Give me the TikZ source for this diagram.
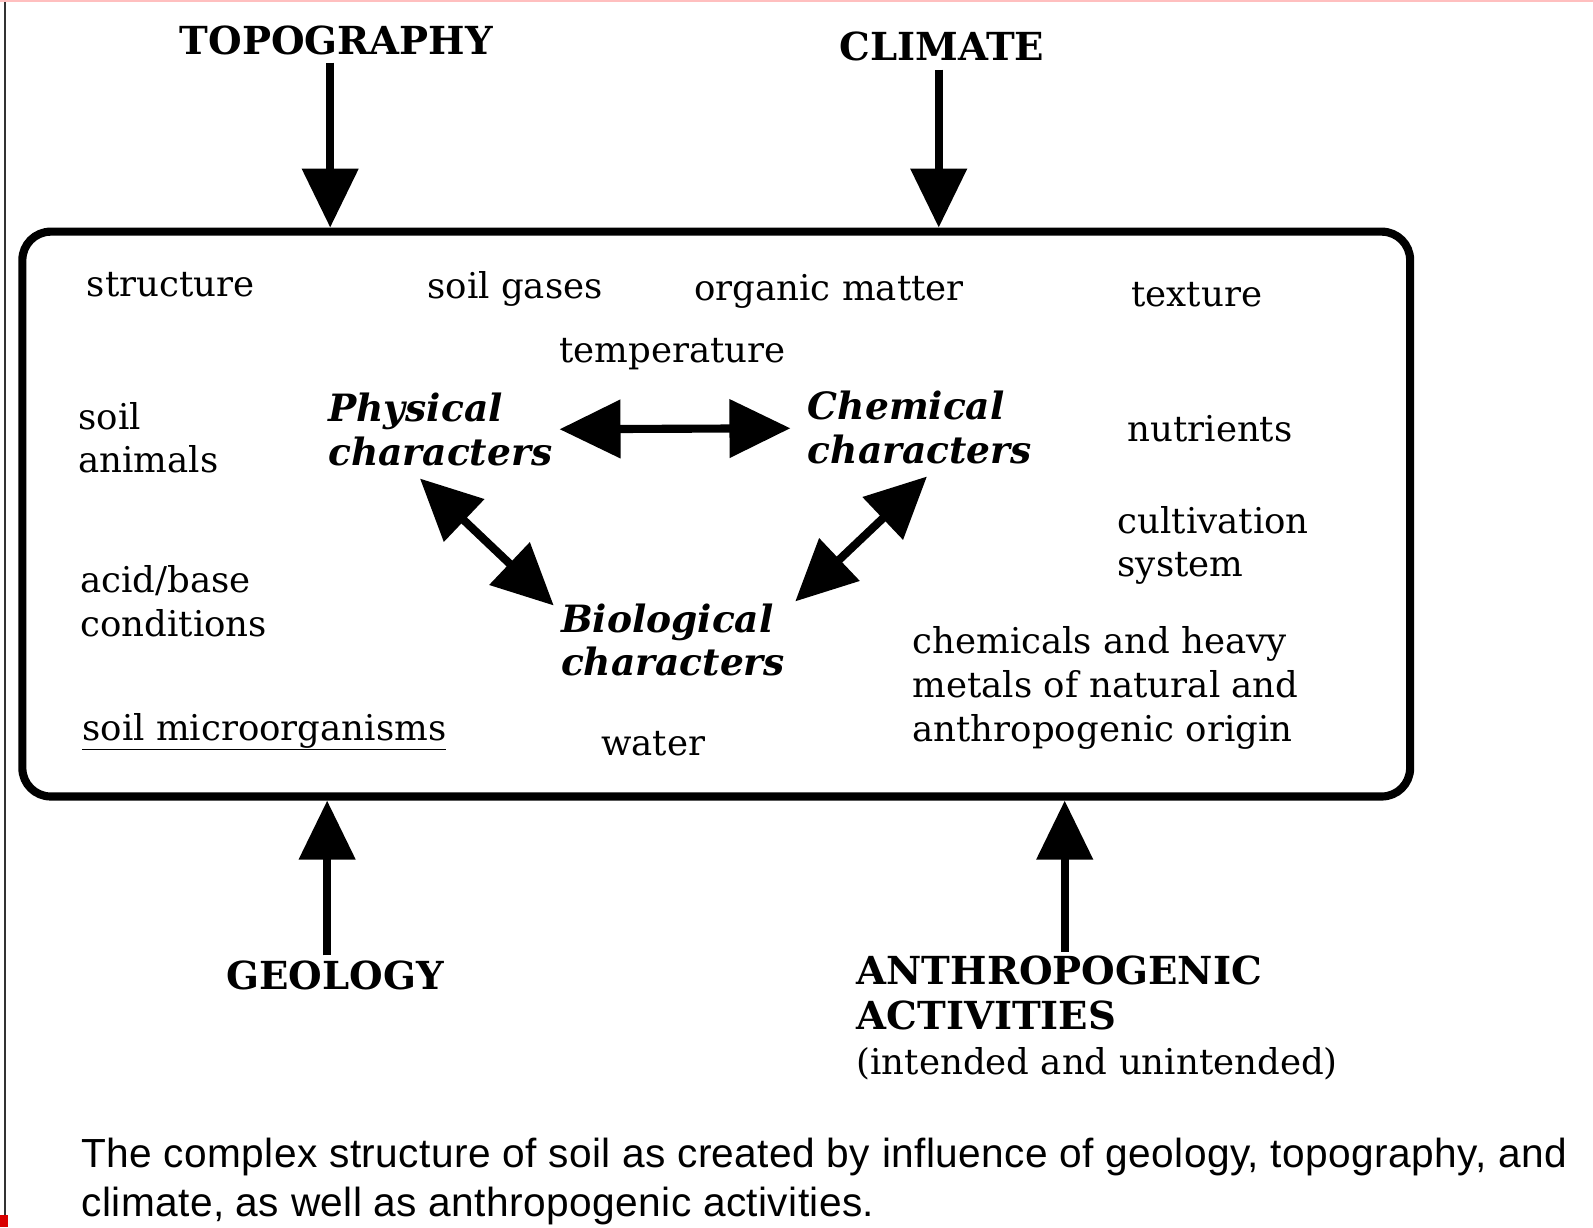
\documentclass[tikz,border=0pt]{standalone}
\usepackage{fontspec}
\setmainfont{DejaVu Serif}
\newfontfamily\captionfam[LetterSpace=1.0]{Liberation Sans}
\usepackage{tikz}
\usetikzlibrary{calc, arrows.meta, positioning}
\tikzset{
    rectanglenode/.style = {draw, rectangle, rounded corners=28pt, line width=8pt, inner sep=0em, node distance=0em},
    textnode/.style = {draw=none, fill=none, rectangle, inner sep=0em, node distance=0em, font=\fontsize{35pt}{43pt}\selectfont},
    leftnode/.style = {textnode, align=left},
    capsnode/.style = {textnode, font=\fontsize{38pt}{44pt}\selectfont\bfseries},
    charnode/.style = {leftnode, font=\fontsize{37pt}{43pt}\selectfont\bfseries\itshape},
    captionnode/.style = {leftnode, font=\fontsize{40pt}{49pt}\selectfont\captionfam},
    influence/.style = {line width=8pt, -{Triangle[length=58pt, width=54pt]}},
    interact/.style = {line width=8pt, {Triangle[length=60pt, width=56pt]}-{Triangle[length=60pt, width=56pt]}}
}

\begin{document}
\begin{tikzpicture}
\useasboundingbox (0,0) rectangle (1568pt,-1208pt);
\draw[line width=1.5pt, black!80] (5pt,0) -- (5pt,-1208pt);
\draw[line width=2pt, red!25] (0,-1pt) -- (1568pt,-1pt);
\fill[red!85!black] (0,-1196pt) rectangle (8pt,-1208pt);

\node[rectanglenode, name=box, minimum width=1366pt, minimum height=556pt] at (705pt,-506pt) {};

\node[capsnode, name=topo, above of = box, xshift=-374pt, yshift=466pt] {TOPOGRAPHY};
\node[capsnode, name=climate, above of = box, xshift=222pt, yshift=460pt] {CLIMATE};
\node[capsnode, name=geology, below of = box, xshift=-375pt, yshift=-454pt] {GEOLOGY};
\node[leftnode, name=anthro, below of = box, anchor=west, xshift=138pt, yshift=-496pt, font=\fontsize{35pt}{44pt}\selectfont]
	{{\fontsize{38pt}{44pt}\selectfont\bfseries ANTHROPOGENIC}\\{\fontsize{38pt}{44pt}\selectfont\bfseries ACTIVITIES}\\(intended and unintended)};

\draw[influence] ([xshift=-6pt, yshift=-7pt]topo.south) -- ([xshift=-6pt]topo.south |- box.north);
\draw[influence] ([xshift=-3pt, yshift=-8pt]climate.south) -- ([xshift=-3pt]climate.south |- box.north);
\draw[influence] ([xshift=-8pt, yshift=5pt]geology.north) -- ([xshift=-8pt]geology.north |- box.south);
\draw[influence] ([xshift=205pt, yshift=4pt]anthro.north west) -- ([xshift=205pt]anthro.north west |- box.south);

\node[textnode, name=structure, above of = box, xshift=-537pt, yshift=226pt] {structure};
\node[textnode, name=gases, above of = box, xshift=-198pt, yshift=222pt] {soil gases};
\node[textnode, name=organic, above of = box, xshift=111pt, yshift=219pt] {organic matter};
\node[textnode, name=texture, above of = box, xshift=473pt, yshift=216pt] {texture};
\node[textnode, name=temperature, above of = box, xshift=-43pt, yshift=157pt] {temperature};

\node[leftnode, name=animals, left of = box, anchor=west, xshift=-628pt, yshift=75pt] {soil\\animals};
\node[charnode, name=phys, left of = box, anchor=west, xshift=-382pt, yshift=83pt] {Physical\\characters};
\node[charnode, name=chem, right of = box, anchor=west, xshift=90pt, yshift=85pt] {Chemical\\characters};
\node[textnode, name=nutrients, right of = box, xshift=486pt, yshift=84pt] {nutrients};
\node[leftnode, name=cultivation, right of = box, anchor=west, xshift=395pt, yshift=-31pt] {cultivation\\system};
\node[leftnode, name=acidbase, left of = box, anchor=west, xshift=-626pt, yshift=-86pt] {acid/base\\conditions};
\node[charnode, name=bio, below of = box, anchor=west, xshift=-153pt, yshift=-124pt] {Biological\\characters};
\node[leftnode, name=chemicals, right of = box, anchor=west, xshift=193pt, yshift=-171pt]
	{chemicals and heavy\\metals of natural and\\anthropogenic origin};
\node[textnode, name=microbes, below of = box, anchor=west, xshift=-624pt, yshift=-214pt] {\underline{soil microorganisms}};
\node[textnode, name=water, below of = box, xshift=-62pt, yshift=-226pt] {water};

\draw[interact, shorten <=7pt, shorten >=17pt] (phys) -- (chem);
\draw[interact] ([xshift=-20pt, yshift=-12pt]phys.south) -- ([xshift=-7pt, yshift=-2pt]bio.north west);
\draw[interact] ([xshift=7pt, yshift=-12pt]chem.south) -- ([xshift=10pt, yshift=2pt]bio.north east);

\node[captionnode, name=caption, below of = box, anchor=west, xshift=-625pt, yshift=-657pt]
	{The complex structure of soil as created by influence of geology, topography, and\\climate, as well as anthropogenic activities.};
\end{tikzpicture}
\end{document}
